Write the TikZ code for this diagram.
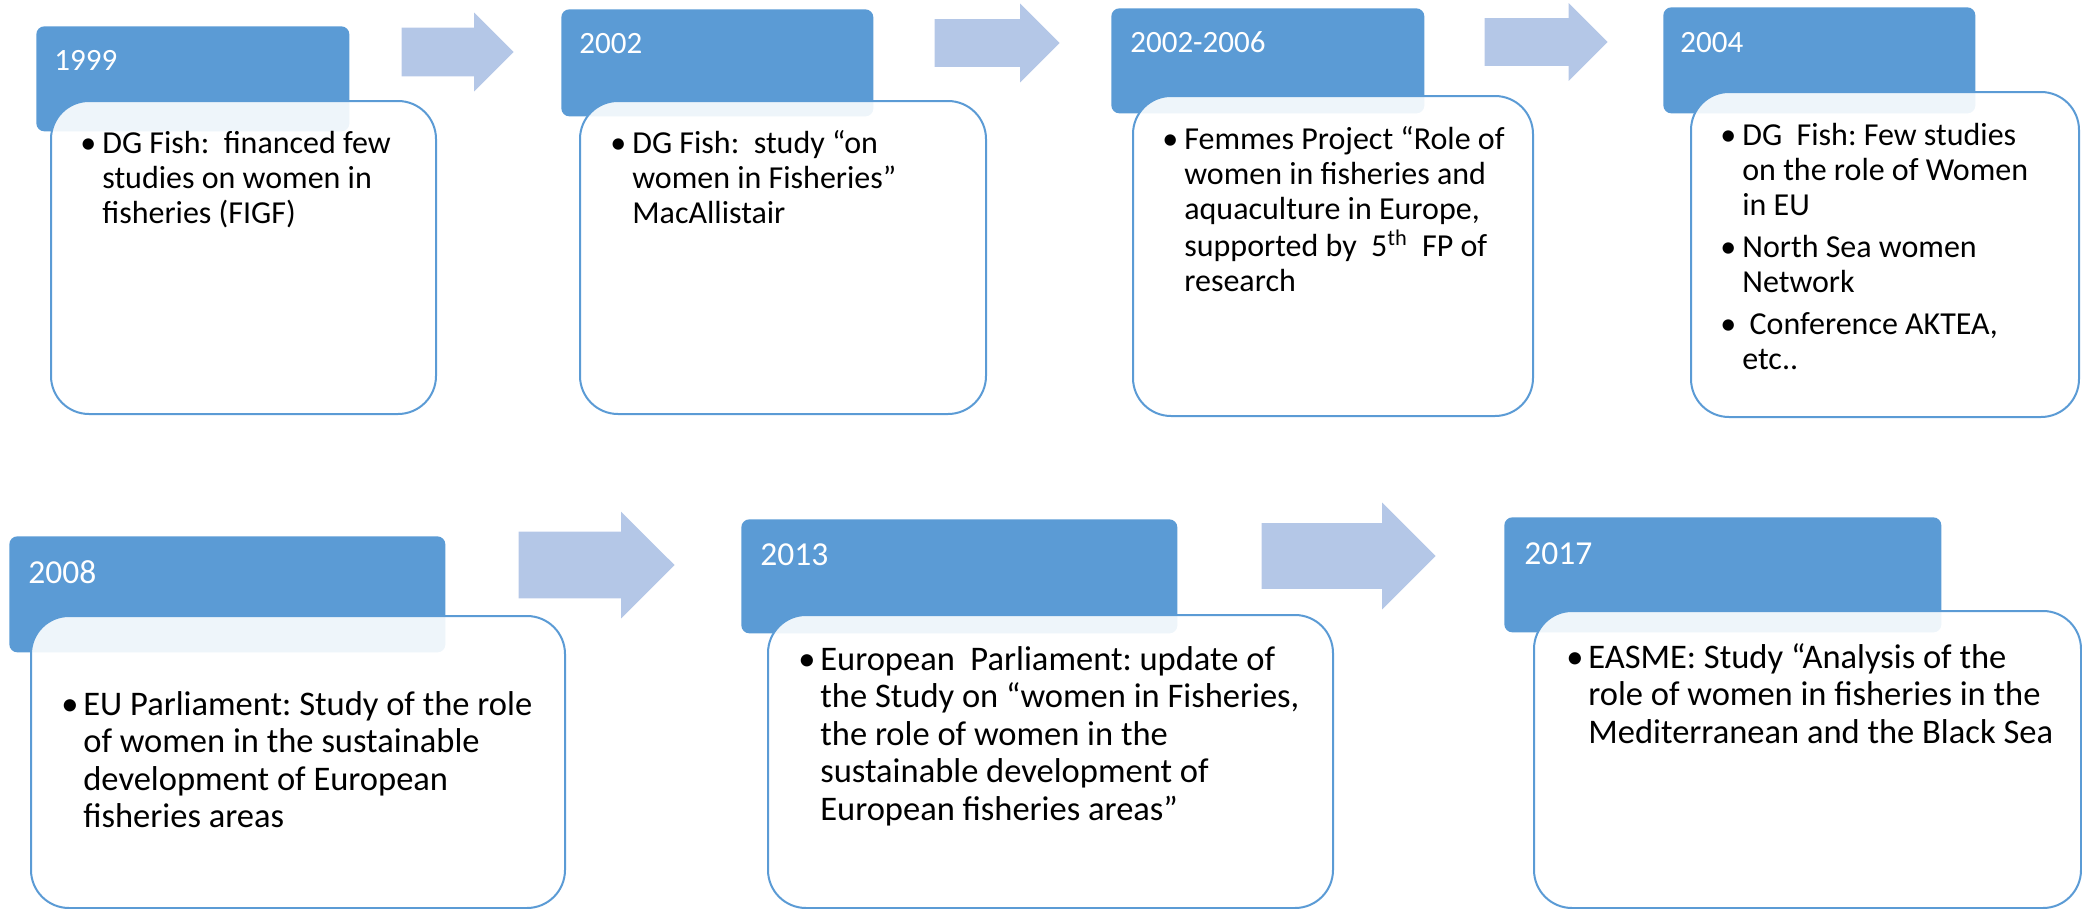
\documentclass[tikz,border=0pt]{standalone}
\usepackage{fontspec}
\setmainfont{Carlito}
\usetikzlibrary{shapes.arrows,positioning}

\definecolor{yearblue}{RGB}{91,155,213}
\definecolor{flowblue}{RGB}{180,199,231}

% bullet list for the card texts: bullet column + text column
\newcommand{\notelist}[1]{\begin{tabular}{@{}p{0.44cm}@{}l@{}}#1\end{tabular}}
\frenchspacing

\begin{document}
\begin{tikzpicture}[
    yearbox/.style={fill=yearblue, rounded corners=0.16cm, anchor=north west, inner sep=0pt},
    card/.style={draw=yearblue, line width=0.04cm, fill=white, fill opacity=0.9, rounded corners=0.76cm, anchor=north west, inner sep=0pt},
    yeartext/.style={anchor=base west, inner sep=0pt, text=white, font=\fontsize{0.62cm}{0.7cm}\selectfont},
    yeartextbig/.style={yeartext, font=\fontsize{0.67cm}{0.75cm}\selectfont},
    notetext/.style={anchor=north west, inner sep=0pt, font=\fontsize{0.64cm}{0.7cm}\selectfont},
    notetextbig/.style={notetext, font=\fontsize{0.69cm}{0.75cm}\selectfont},
    flowarrow/.style 2 args={single arrow, fill=flowblue, inner sep=0pt, anchor=tip, text height=#1, text depth=#1, single arrow head extend=#2}
]
    \useasboundingbox (0,0) rectangle (41.64,-18.18);

    % 1999
    \node[yearbox, minimum width=6.26cm, minimum height=2.10cm] (hd1) at (0.72,-0.52) {};
    \node[card, minimum width=7.70cm, minimum height=6.26cm] (card1) at (1.00,-2.00) {};
    \node[yeartext] (yr1) at (1.08,-1.40) {1999};
    \node[notetext] (txt1) at (1.60,-2.57) {\notelist{\textbullet & DG Fish:\ \ financed few\\ & studies on women in\\ & fisheries (FIGF)}};

    \node[flowarrow={0.48cm}{0.30cm}, minimum height=2.24cm] (ar1) at (10.28,-1.04) {};

    % 2002
    \node[yearbox, minimum width=6.24cm, minimum height=2.14cm] (hd2) at (11.22,-0.18) {};
    \node[card, minimum width=8.12cm, minimum height=6.26cm] (card2) at (11.58,-2.00) {};
    \node[yeartext] (yr2) at (11.58,-1.06) {2002};
    \node[notetext] (txt2) at (12.20,-2.57) {\notelist{\textbullet & DG Fish:\ \ study “on\\ & women in Fisheries”\\ & MacAllistair}};

    \node[flowarrow={0.47cm}{0.31cm}, minimum height=2.50cm] (ar2) at (21.20,-0.86) {};

    % 2002-2006
    \node[yearbox, minimum width=6.26cm, minimum height=2.10cm] (hd3) at (22.22,-0.16) {};
    \node[card, minimum width=8.00cm, minimum height=6.40cm] (card3) at (22.64,-1.90) {};
    \node[yeartext] (yr3) at (22.60,-1.04) {2002-2006};
    \node[notetext] (txt3) at (23.24,-2.49) {\notelist{\textbullet & Femmes Project “Role of\\ & women in fisheries and\\ & aquaculture in Europe,\\ & supported by\ \ 5\textsuperscript{th}\ \ FP of\\ & research}};

    \node[flowarrow={0.47cm}{0.30cm}, minimum height=2.46cm] (ar3) at (32.16,-0.84) {};

    % 2004
    \node[yearbox, minimum width=6.24cm, minimum height=2.12cm] (hd4) at (33.26,-0.14) {};
    \node[card, minimum width=7.76cm, minimum height=6.50cm] (card4) at (33.80,-1.82) {};
    \node[yeartext] (yr4) at (33.60,-1.04) {2004};
    \node[notetext] (txt4) at (34.40,-2.41) {\notelist{\textbullet & DG\ \ Fish: Few studies\\ & on the role of Women\\ & in EU\\[0.14cm]
        \textbullet & North Sea women\\ & Network\\[0.14cm]
        \textbullet & \ Conference AKTEA,\\ & etc..}};

    % 2008
    \node[yearbox, minimum width=8.72cm, minimum height=2.32cm] (hd5) at (0.18,-10.72) {};
    \node[card, minimum width=10.68cm, minimum height=5.84cm] (card5) at (0.60,-12.30) {};
    \node[yeartextbig] (yr5) at (0.56,-11.66) {2008};
    \node[notetextbig] (txt5) at (1.22,-13.775) {\notelist{\textbullet & EU Parliament: Study of the role\\ & of women in the sustainable\\ & development of European\\ & fisheries areas}};

    \node[flowarrow={0.66cm}{0.40cm}, minimum height=3.12cm] (ar4) at (13.50,-11.30) {};

    % 2013
    \node[yearbox, minimum width=8.72cm, minimum height=2.28cm] (hd6) at (14.82,-10.38) {};
    \node[card, minimum width=11.30cm, minimum height=5.86cm] (card6) at (15.34,-12.28) {};
    \node[yeartextbig] (yr6) at (15.20,-11.30) {2013};
    \node[notetextbig] (txt6) at (15.96,-12.875) {\notelist{\textbullet & European\ \ Parliament: update of\\ & the Study on “women in Fisheries,\\ & the role of women in the\\ & sustainable development of\\ & European fisheries areas”}};

    \node[flowarrow={0.65cm}{0.41cm}, minimum height=3.48cm] (ar5) at (28.72,-11.12) {};

    % 2017
    \node[yearbox, minimum width=8.74cm, minimum height=2.30cm] (hd7) at (30.08,-10.34) {};
    \node[card, minimum width=10.94cm, minimum height=5.94cm] (card7) at (30.66,-12.20) {};
    \node[yeartextbig] (yr7) at (30.48,-11.28) {2017};
    \node[notetextbig] (txt7) at (31.32,-12.835) {\notelist{\textbullet & EASME: Study “Analysis of the\\ & role of women in fisheries in the\\ & Mediterranean and the Black Sea}};

\end{tikzpicture}
\end{document}
